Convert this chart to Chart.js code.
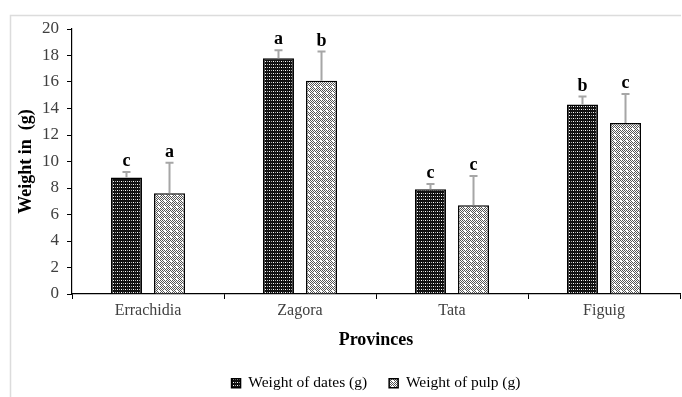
<!DOCTYPE html>
<html>
<head>
<meta charset="utf-8">
<script src="https://cdn.jsdelivr.net/npm/chart.js@4.4.0/dist/chart.umd.min.js"></script>
<style>
  body { margin: 0; background: #fff; }
  #wrap { width: 682px; height: 397px; position: relative; }
</style>
</head>
<body>
<div id="wrap"><canvas id="weightChart" width="682" height="397"></canvas></div>
<script>
// Values
const provinces = ['Errachidia', 'Zagora', 'Tata', 'Figuig'];
const datesWeight = [8.8, 17.8, 7.9, 14.3];
const datesError = [0.4, 0.6, 0.4, 0.6];
const datesLetters = ['c', 'a', 'c', 'b'];
const pulpWeight = [7.6, 16.1, 6.7, 12.9];
const pulpError = [2.3, 2.2, 2.2, 2.2];
const pulpLetters = ['a', 'b', 'c', 'c'];
const yTicks = [0, 2, 4, 6, 8, 10, 12, 14, 16, 18, 20];

const serif = "'Liberation Serif', 'Times New Roman', serif";

// Hatch fills, like the Excel pattern fills
function makePattern(w, h, draw) {
  const c = document.createElement('canvas');
  c.width = w;
  c.height = h;
  draw(c.getContext('2d'));
  return c.getContext('2d').createPattern(c, 'repeat');
}

const datesFill = makePattern(4, 3, (g) => {
  g.fillStyle = '#111';
  g.fillRect(0, 0, 4, 3);
  g.fillStyle = '#fff';
  g.fillRect(1, 1, 1, 1);
  g.fillStyle = '#aaa';
  g.fillRect(3, 1, 1, 1);
});

const pulpFill = makePattern(6, 6, (g) => {
  g.fillStyle = '#fff';
  g.fillRect(0, 0, 6, 6);
  g.fillStyle = '#555';
  for (let x = 0; x < 6; x++) {
    for (let y = 0; y < 6; y++) {
      if ((x + y) % 2 === 0) g.fillRect(x, y, 1, 1);
    }
  }
  g.fillStyle = '#fff';
  g.fillRect(2, 2, 2, 2);
});

// error bars (upper only) and letters above them
const errorBars = {
  id: 'errorBars',
  afterDatasetsDraw(chart) {
    const ctx = chart.ctx;
    const y = chart.scales.y;
    const sets = [
      [datesWeight, datesError, datesLetters],
      [pulpWeight, pulpError, pulpLetters],
    ];
    ctx.save();
    sets.forEach(([vals, errs, letters], di) => {
      const meta = chart.getDatasetMeta(di);
      meta.data.forEach((bar, i) => {
        const top = y.getPixelForValue(vals[i]);
        const cap = y.getPixelForValue(vals[i] + errs[i]);
        ctx.strokeStyle = '#a6a6a6';
        ctx.lineWidth = 2;
        ctx.beginPath();
        ctx.moveTo(bar.x, top);
        ctx.lineTo(bar.x, cap);
        ctx.moveTo(bar.x - 4, cap);
        ctx.lineTo(bar.x + 4, cap);
        ctx.stroke();
        ctx.fillStyle = '#000';
        ctx.font = 'bold 18px ' + serif;
        ctx.textAlign = 'center';
        ctx.textBaseline = 'alphabetic';
        ctx.fillText(letters[i], bar.x, cap - 6);
      });
    });
    ctx.restore();
  },
};

// light grey frame round the chart
const frame = {
  id: 'frame',
  beforeDraw(chart) {
    const ctx = chart.ctx;
    ctx.save();
    ctx.strokeStyle = '#dcdcdc';
    ctx.lineWidth = 1.5;
    ctx.beginPath();
    ctx.moveTo(10.5, 397);
    ctx.lineTo(10.5, 15.5);
    ctx.lineTo(681, 15.5);
    ctx.stroke();
    ctx.restore();
  },
};

new Chart('weightChart', {
  type: 'bar',
  data: {
    labels: provinces,
    datasets: [
      {
        label: 'Weight of dates (g)',
        data: datesWeight,
        backgroundColor: datesFill,
        borderColor: '#000',
        borderWidth: 1.5,
        categoryPercentage: 0.566,
        barPercentage: 0.72,
      },
      {
        label: 'Weight of pulp (g)',
        data: pulpWeight,
        backgroundColor: pulpFill,
        borderColor: '#000',
        borderWidth: 1.5,
        categoryPercentage: 0.566,
        barPercentage: 0.72,
      },
    ],
  },
  options: {
    responsive: false,
    animation: false,
    layout: { padding: { top: 29, right: 2, left: 0, bottom: -4 } },
    plugins: {
      legend: {
        position: 'bottom',
        fullSize: false,
        labels: {
          boxWidth: 9,
          boxHeight: 9,
          padding: 22,
          color: '#000',
          font: { family: serif, size: 15.5 },
        },
      },
      tooltip: { enabled: false },
    },
    scales: {
      x: {
        afterFit: (scale) => { scale.height = 59.5; },
        grid: {
          drawOnChartArea: false,
          drawTicks: true,
          tickLength: 5,
          color: '#000',
        },
        border: { color: '#000', width: 1.2 },
        ticks: {
          padding: 2,
          color: '#404040',
          font: { family: serif, size: 16 },
        },
        title: {
          display: true,
          text: 'Provinces',
          color: '#000',
          padding: { top: 4, bottom: 2.7 },
          font: { family: serif, size: 18, weight: 'bold' },
        },
      },
      y: {
        min: 0,
        max: 20,
        afterFit: (scale) => { scale.width = 72; },
        afterBuildTicks: (scale) => { scale.ticks = yTicks.map((v) => ({ value: v })); },
        grid: {
          drawOnChartArea: false,
          drawTicks: true,
          tickLength: 5,
          color: '#000',
        },
        border: { color: '#000', width: 1.2 },
        ticks: {
          padding: 8,
          color: '#404040',
          font: { family: serif, size: 17 },
        },
        title: {
          display: true,
          text: 'Weight in  (g)',
          color: '#000',
          padding: { top: 16, bottom: 0 },
          font: { family: serif, size: 18, weight: 'bold' },
        },
      },
    },
  },
  plugins: [frame, errorBars],
});
</script>
</body>
</html>
